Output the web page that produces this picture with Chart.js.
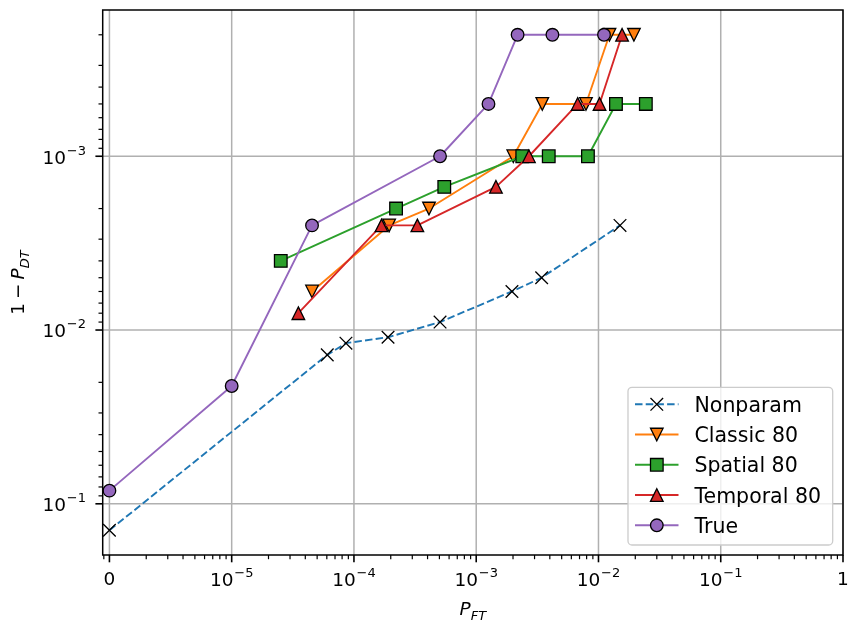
<!DOCTYPE html>
<html>
<head>
<meta charset="utf-8">
<script src="https://cdn.jsdelivr.net/npm/chart.js@4/dist/chart.umd.min.js"></script>
<style>
  html, body { margin: 0; padding: 0; background: #ffffff; }
  canvas { display: block; }
</style>
</head>
<body>
<canvas id="roc" width="848" height="623"></canvas>
<script>
// ---- data: false-alarm probability P_FT vs miss probability 1 - P_DT ----
const seriesNames = ['Nonparam', 'Classic 80', 'Spatial 80', 'Temporal 80', 'True'];

const nonparamPFT  = [0, 6.05e-5, 8.6e-5, 1.9e-4, 5.06e-4, 1.96e-3, 3.43e-3, 1.5e-2];
const nonparamMiss = [0.142, 0.0139, 0.0119, 0.011, 0.009, 0.006, 0.005, 0.0025];

const classicPFT  = [4.54e-5, 1.94e-4, 4.11e-4, 2.01e-3, 3.47e-3, 7.9e-3, 1.23e-2, 1.95e-2];
const classicMiss = [0.006, 0.0025, 0.002, 0.001, 0.0005, 0.0005, 0.0002, 0.0002];

const spatialPFT  = [2.52e-5, 2.21e-4, 5.48e-4, 2.38e-3, 3.92e-3, 8.2e-3, 1.39e-2, 2.44e-2];
const spatialMiss = [0.004, 0.002, 0.0015, 0.001, 0.001, 0.001, 0.0005, 0.0005];

const temporalPFT  = [3.51e-5, 1.68e-4, 3.3e-4, 1.45e-3, 2.7e-3, 6.76e-3, 1.02e-2, 1.56e-2];
const temporalMiss = [0.008, 0.0025, 0.0025, 0.0015, 0.001, 0.0005, 0.0005, 0.0002];

const truePFT  = [0, 1e-5, 4.54e-5, 5.06e-4, 1.26e-3, 2.18e-3, 4.2e-3, 1.11e-2];
const trueMiss = [0.084, 0.021, 0.0025, 0.001, 0.0005, 0.0002, 0.0002, 0.0002];

// tick labels
const xTickValues = [1e-6, 1e-5, 1e-4, 1e-3, 1e-2, 1e-1, 1];
const xTickLabels = ['0', '10^-5', '10^-4', '10^-3', '10^-2', '10^-1', '1'];
const yTickValues = [1e-3, 1e-2, 1e-1];
const yTickLabels = ['10^-3', '10^-2', '10^-1'];

// P_FT = 0 cannot sit on a log axis; it is placed at the "0" tick
const ZERO_AT = 1e-6;

// ---- styling ----
const seriesColors  = ['#1f77b4', '#ff7f0e', '#2ca02c', '#d62728', '#9467bd'];
const seriesMarkers = ['x', 'v', 's', '^', 'o'];
const seriesDashes  = [[7.5, 3.2], [], [], [], []];

const FAMILY = "'DejaVu Sans'";
const TICK_PX = 18.5;
const SUP_PX = 13;
const LEGEND_PX = 20.5;
const MARKER = 12.6;

function points(xs, ys) {
  return xs.map((x, i) => ({ x: x === 0 ? ZERO_AT : x, y: ys[i] }));
}

const seriesData = [
  points(nonparamPFT, nonparamMiss),
  points(classicPFT, classicMiss),
  points(spatialPFT, spatialMiss),
  points(temporalPFT, temporalMiss),
  points(truePFT, trueMiss)
];

const datasets = seriesNames.map((name, i) => ({
  label: name,
  data: seriesData[i],
  borderColor: seriesColors[i],
  backgroundColor: seriesColors[i],
  borderWidth: 1.9,
  borderDash: seriesDashes[i],
  borderJoinStyle: 'round',
  pointRadius: 0,
  pointHoverRadius: 0,
  pointHitRadius: 0,
  fill: false,
  tension: 0,
  order: seriesNames.length - i   // later series are painted on top
}));

function drawMarker(ctx, kind, x, y, fill) {
  const h = MARKER / 2;
  ctx.save();
  ctx.lineWidth = 1.3;
  ctx.strokeStyle = '#000000';
  ctx.fillStyle = fill;
  ctx.lineJoin = 'miter';
  ctx.setLineDash([]);
  ctx.beginPath();
  if (kind === 'x') {
    ctx.moveTo(x - h, y - h); ctx.lineTo(x + h, y + h);
    ctx.moveTo(x - h, y + h); ctx.lineTo(x + h, y - h);
    ctx.stroke();
    ctx.restore();
    return;
  }
  if (kind === 'o') {
    ctx.arc(x, y, h, 0, Math.PI * 2);
  } else if (kind === 's') {
    ctx.rect(x - h, y - h, MARKER, MARKER);
  } else if (kind === '^') {
    ctx.moveTo(x, y - h); ctx.lineTo(x + h, y + h); ctx.lineTo(x - h, y + h); ctx.closePath();
  } else if (kind === 'v') {
    ctx.moveTo(x, y + h); ctx.lineTo(x - h, y - h); ctx.lineTo(x + h, y - h); ctx.closePath();
  }
  ctx.fill();
  ctx.stroke();
  ctx.restore();
}

// "10^-3" -> base "10" with a raised exponent
function splitPow(label) {
  const k = label.indexOf('^');
  if (k < 0) return { base: label, sup: '' };
  return { base: label.slice(0, k), sup: label.slice(k + 1).replace('-', '\u2212') };
}
function powWidth(ctx, p) {
  ctx.font = TICK_PX + 'px ' + FAMILY;
  let w = ctx.measureText(p.base).width;
  if (p.sup) {
    ctx.font = SUP_PX + 'px ' + FAMILY;
    w += 0.8 + ctx.measureText(p.sup).width;
  }
  return w;
}
function drawPow(ctx, p, left, baseline) {
  ctx.textAlign = 'left';
  ctx.textBaseline = 'alphabetic';
  ctx.font = TICK_PX + 'px ' + FAMILY;
  ctx.fillText(p.base, left, baseline);
  if (p.sup) {
    const bw = ctx.measureText(p.base).width;
    ctx.font = SUP_PX + 'px ' + FAMILY;
    ctx.fillText(p.sup, left + bw + 0.8, baseline - 9);
  }
}

const decorations = {
  id: 'decorations',
  beforeDatasetsDraw(chart) {
    const { ctx, chartArea: a, scales: { x, y } } = chart;
    ctx.save();
    ctx.strokeStyle = '#b0b0b0';
    ctx.lineWidth = 1.5;
    xTickValues.forEach(v => {
      const px = x.getPixelForValue(v);
      ctx.beginPath(); ctx.moveTo(px, a.top); ctx.lineTo(px, a.bottom); ctx.stroke();
    });
    yTickValues.forEach(v => {
      const py = y.getPixelForValue(v);
      ctx.beginPath(); ctx.moveTo(a.left, py); ctx.lineTo(a.right, py); ctx.stroke();
    });
    ctx.restore();
  },
  afterDatasetDraw(chart, args) {
    const ds = chart.data.datasets[args.index];
    const i = seriesNames.indexOf(ds.label);
    const { ctx, chartArea: a } = chart;
    ctx.save();
    ctx.beginPath();
    ctx.rect(a.left, a.top, a.right - a.left, a.bottom - a.top);
    ctx.clip();
    args.meta.data.forEach(el => drawMarker(ctx, seriesMarkers[i], el.x, el.y, seriesColors[i]));
    ctx.restore();
  },
  afterDatasetsDraw(chart) {
    const { ctx, chartArea: a, scales: { x, y } } = chart;
    ctx.save();

    // spines
    ctx.strokeStyle = '#000000';
    ctx.lineWidth = 1.5;
    ctx.strokeRect(a.left, a.top, a.right - a.left, a.bottom - a.top);

    // minor ticks
    ctx.lineWidth = 1.2;
    for (let d = -8; d <= 1; d++) {
      for (let m = 2; m <= 9; m++) {
        const v = m * Math.pow(10, d);
        if (v >= x.min && v <= x.max) {
          const px = x.getPixelForValue(v);
          ctx.beginPath(); ctx.moveTo(px, a.bottom); ctx.lineTo(px, a.bottom + 4.2); ctx.stroke();
        }
        if (v >= y.min && v <= y.max) {
          const py = y.getPixelForValue(v);
          ctx.beginPath(); ctx.moveTo(a.left, py); ctx.lineTo(a.left - 4.2, py); ctx.stroke();
        }
      }
    }
    // major ticks
    ctx.lineWidth = 1.6;
    xTickValues.forEach(v => {
      const px = x.getPixelForValue(v);
      ctx.beginPath(); ctx.moveTo(px, a.bottom); ctx.lineTo(px, a.bottom + 7.3); ctx.stroke();
    });
    yTickValues.forEach(v => {
      const py = y.getPixelForValue(v);
      ctx.beginPath(); ctx.moveTo(a.left, py); ctx.lineTo(a.left - 7.3, py); ctx.stroke();
    });

    // tick labels
    ctx.fillStyle = '#000000';
    xTickValues.forEach((v, i) => {
      const p = splitPow(xTickLabels[i]);
      const w = powWidth(ctx, p);
      const px = x.getPixelForValue(v);
      drawPow(ctx, p, px - w / 2, p.sup ? a.bottom + 30.6 : a.bottom + 29.5);
    });
    yTickValues.forEach((v, i) => {
      const p = splitPow(yTickLabels[i]);
      const w = powWidth(ctx, p);
      const py = y.getPixelForValue(v);
      drawPow(ctx, p, a.left - 16.8 - w, py + 7.4);
    });

    // x axis title: P_FT
    ctx.textBaseline = 'alphabetic';
    ctx.textAlign = 'left';
    ctx.font = 'italic ' + TICK_PX + 'px ' + FAMILY;
    const wP = ctx.measureText('P').width;
    ctx.font = 'italic ' + SUP_PX + 'px ' + FAMILY;
    const wFT = ctx.measureText('FT').width;
    const cx = (a.left + a.right) / 2;
    let sx = cx - (wP + wFT) / 2;
    ctx.font = 'italic ' + TICK_PX + 'px ' + FAMILY;
    ctx.fillText('P', sx, 615);
    ctx.font = 'italic ' + SUP_PX + 'px ' + FAMILY;
    ctx.fillText('FT', sx + wP, 619.5);

    // y axis title: 1 - P_DT (rotated)
    ctx.save();
    ctx.translate(24, (a.top + a.bottom) / 2);
    ctx.rotate(-Math.PI / 2);
    ctx.font = TICK_PX + 'px ' + FAMILY;
    const w1 = ctx.measureText('1').width;
    const wMinus = ctx.measureText('\u2212').width;
    const gap = 4;
    ctx.font = 'italic ' + TICK_PX + 'px ' + FAMILY;
    const wP2 = ctx.measureText('P').width;
    ctx.font = 'italic ' + SUP_PX + 'px ' + FAMILY;
    const wDT = ctx.measureText('DT').width;
    const total = w1 + gap + wMinus + gap + wP2 + wDT;
    let tx = -total / 2;
    ctx.font = TICK_PX + 'px ' + FAMILY;
    ctx.fillText('1', tx, 0); tx += w1 + gap;
    ctx.fillText('\u2212', tx, 0); tx += wMinus + gap;
    ctx.font = 'italic ' + TICK_PX + 'px ' + FAMILY;
    ctx.fillText('P', tx, 0); tx += wP2;
    ctx.font = 'italic ' + SUP_PX + 'px ' + FAMILY;
    ctx.fillText('DT', tx, 4.5);
    ctx.restore();

    // legend
    const L = { left: 628, top: 387.3, width: 204.7, height: 157.7 };
    ctx.beginPath();
    ctx.roundRect(L.left, L.top, L.width, L.height, 4);
    ctx.fillStyle = 'rgba(255,255,255,0.8)';
    ctx.fill();
    ctx.strokeStyle = '#cccccc';
    ctx.lineWidth = 1.3;
    ctx.stroke();
    seriesNames.forEach((name, i) => {
      const ry = 404.3 + i * 30.25;
      ctx.save();
      ctx.strokeStyle = seriesColors[i];
      ctx.lineWidth = 1.9;
      ctx.setLineDash(seriesDashes[i]);
      ctx.beginPath(); ctx.moveTo(635, ry); ctx.lineTo(678.5, ry); ctx.stroke();
      ctx.restore();
      drawMarker(ctx, seriesMarkers[i], 656.8, ry, seriesColors[i]);
      ctx.fillStyle = '#000000';
      ctx.font = LEGEND_PX + 'px ' + FAMILY;
      ctx.textAlign = 'left';
      ctx.textBaseline = 'alphabetic';
      ctx.fillText(name, 694.5, ry + 7.5);
    });

    ctx.restore();
  }
};

new Chart(document.getElementById('roc'), {
  type: 'line',
  data: { datasets },
  options: {
    responsive: false,
    animation: false,
    devicePixelRatio: 1,
    layout: { padding: { left: 102.7, right: 5, top: 10, bottom: 68 } },
    plugins: { legend: { display: false }, tooltip: { enabled: false } },
    scales: {
      x: {
        type: 'logarithmic',
        display: false,
        bounds: 'data',
        min: Math.pow(10, -6.055),
        max: 1
      },
      y: {
        type: 'logarithmic',
        display: false,
        reverse: true,
        bounds: 'data',
        min: Math.pow(10, -3.8416),
        max: Math.pow(10, -0.7054)
      }
    }
  },
  plugins: [decorations]
});
</script>
</body>
</html>
